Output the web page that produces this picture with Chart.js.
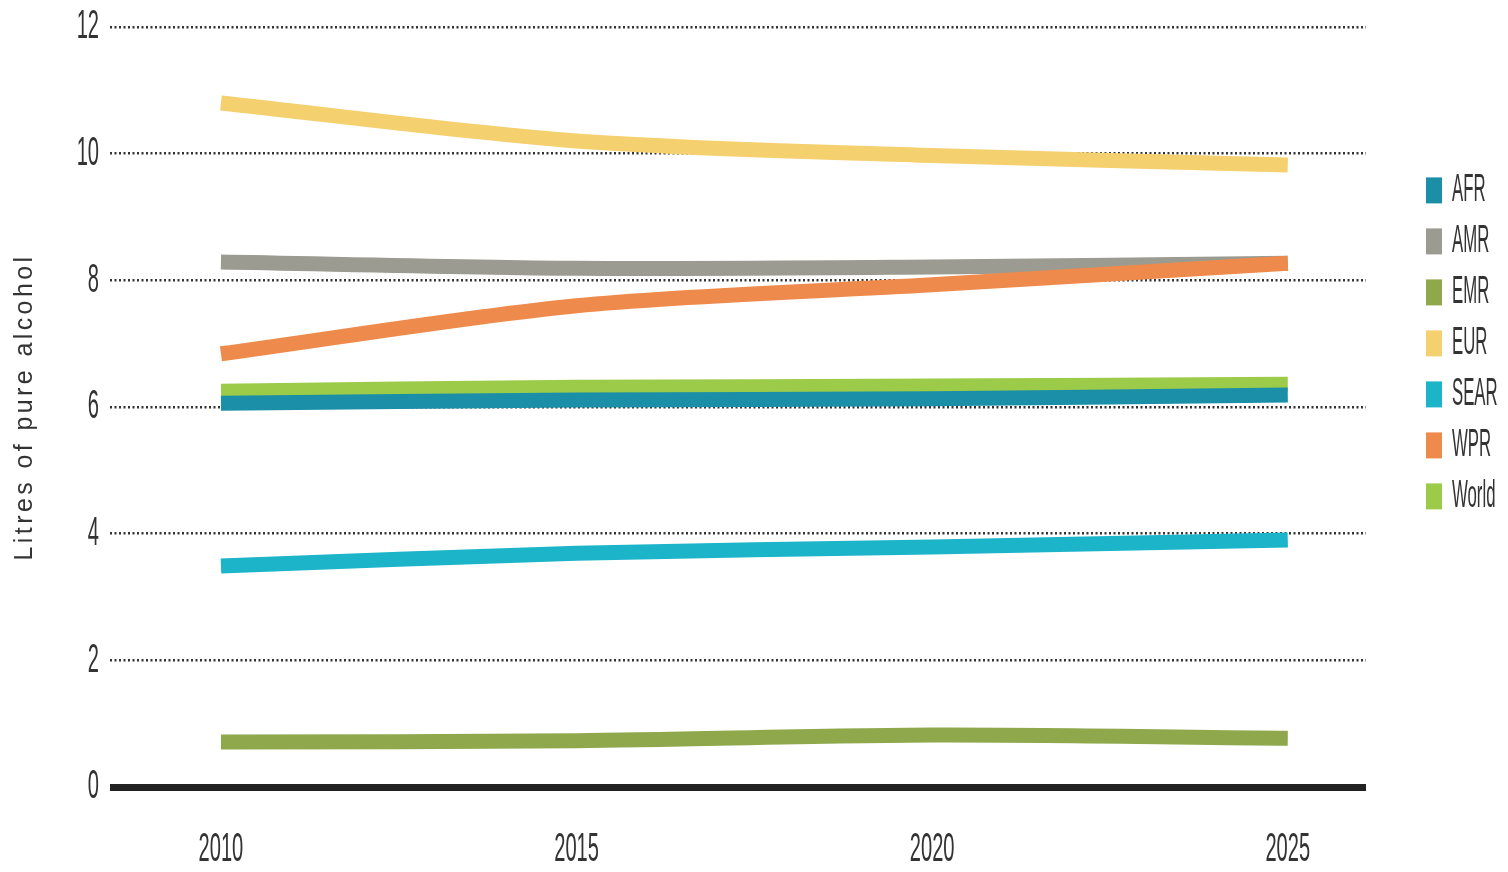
<!DOCTYPE html>
<html>
<head>
<meta charset="utf-8">
<script src="https://cdn.jsdelivr.net/npm/chart.js@4/dist/chart.umd.min.js"></script>
<style>
  html, body { margin: 0; padding: 0; background: #fff; }
  #c { display: block; }
</style>
</head>
<body>
<canvas id="c" width="1508" height="872"></canvas>
<script>
  // Litres of pure alcohol per capita, by WHO region
  const YEARS = [2010, 2015, 2020, 2025];
  const Y_TICKS = [0, 2, 4, 6, 8, 10, 12];

  const AFR   = [6.06, 6.11, 6.13, 6.19];
  const AMR   = [8.29, 8.19, 8.21, 8.27];
  const EMR   = [0.71, 0.73, 0.82, 0.77];
  const EUR   = [10.80, 10.20, 9.97, 9.82];
  const SEAR  = [3.49, 3.69, 3.79, 3.90];
  const WPR   = [6.84, 7.60, 7.93, 8.27];
  const WORLD = [6.25, 6.31, 6.33, 6.36];

  const FONT = "'Liberation Sans', Arial, sans-serif";

  function pts(vals) {
    return vals.map(function (v, i) { return { x: YEARS[i], y: v }; });
  }

  function series(label, vals, color, order) {
    return {
      label: label, data: pts(vals), order: order,
      borderColor: color, backgroundColor: color,
      borderWidth: 15, borderCapStyle: 'butt', borderJoinStyle: 'round',
      pointRadius: 0, tension: 0.3, fill: false,
    };
  }

  /* condensed text: the narrow face is drawn by squeezing a normal one */
  function narrowText(ctx, text, x, y, size, sx, align) {
    ctx.save();
    ctx.font = size + 'px ' + FONT;
    ctx.fillStyle = '#333';
    ctx.textBaseline = 'middle';
    ctx.textAlign = align;
    ctx.translate(x, y);
    ctx.scale(sx, 1);
    ctx.fillText(text, 0, 0);
    ctx.restore();
  }

  const narrowLabels = {
    id: 'narrowLabels',
    beforeDraw: function (chart) { chart.ctx.letterSpacing = '3.4px'; },
    afterDraw: function (chart) {
      const ctx = chart.ctx;
      ctx.letterSpacing = '0px';
      const xs = chart.scales.x, ys = chart.scales.y;
      Y_TICKS.forEach(function (v) {
        narrowText(ctx, String(v), 99, ys.getPixelForValue(v), 41, 0.49, 'right');
      });
      YEARS.forEach(function (v) {
        narrowText(ctx, String(v), xs.getPixelForValue(v), 850, 41, 0.49, 'center');
      });
      const lg = chart.legend;
      lg.legendItems.forEach(function (item, i) {
        const hb = lg.legendHitBoxes[i];
        narrowText(ctx, item.text, hb.left + 26, hb.top + 15, 39, 0.43, 'left');
      });
    },
  };

  new Chart(document.getElementById('c'), {
    type: 'line',
    data: {
      datasets: [
        series('AFR',   AFR,   '#1a8fa7', 1),
        series('AMR',   AMR,   '#9c9b91', 6),
        series('EMR',   EMR,   '#8ea84b', 3),
        series('EUR',   EUR,   '#f5d06e', 4),
        series('SEAR',  SEAR,  '#1cb4c9', 5),
        series('WPR',   WPR,   '#ee8a4b', 2),
        series('World', WORLD, '#9ccb4a', 7),
      ],
    },
    plugins: [narrowLabels],
    options: {
      responsive: false,
      animation: false,
      layout: { padding: { top: 27, right: 0, bottom: 0, left: 0 } },
      plugins: {
        tooltip: { enabled: false },
        legend: {
          position: 'right',
          align: 'start',
          maxWidth: 103,
          title: { display: true, text: '', font: { size: 12 }, padding: { top: 113, bottom: 0 } },
          labels: {
            sort: function (a, b) { return a.datasetIndex - b.datasetIndex; },
            generateLabels: function (chart) {
              return Chart.defaults.plugins.legend.labels.generateLabels(chart).map(function (it) {
                it.lineWidth = 0;
                return it;
              });
            },
            boxWidth: 16, boxHeight: 26, padding: 21,
            color: 'rgba(0,0,0,0)', font: { family: FONT, size: 30 },
          },
        },
      },
      scales: {
        x: {
          type: 'linear', min: 2008.44, max: 2026.1,
          afterBuildTicks: function (axis) { axis.ticks = YEARS.map(function (v) { return { value: v }; }); },
          afterFit: function (axis) { axis.height = 85; },
          grid: { display: false },
          border: { display: false },
          ticks: { color: 'rgba(0,0,0,0)', font: { size: 10 } },
        },
        y: {
          min: 0, max: 12,
          afterBuildTicks: function (axis) { axis.ticks = Y_TICKS.map(function (v) { return { value: v }; }); },
          afterFit: function (axis) { axis.width = 110; },
          grid: {
            drawTicks: false,
            color: function (ctx) { return ctx.tick && ctx.tick.value === 0 ? '#222' : '#333'; },
            lineWidth: function (ctx) { return ctx.tick && ctx.tick.value === 0 ? 7 : 2.5; },
          },
          border: {
            display: false,
            dash: function (ctx) { return ctx.tick && ctx.tick.value === 0 ? [] : [2, 2.5]; },
          },
          ticks: { color: 'rgba(0,0,0,0)', font: { size: 10 } },
          title: {
            display: true, text: 'Litres of pure alcohol', color: '#333',
            font: { family: FONT, size: 25 },
            padding: { top: 10, bottom: 0 },
          },
        },
        gap: {
          position: 'right', display: true,
          afterFit: function (axis) { axis.width = 39; },
          grid: { display: false }, border: { display: false },
          ticks: { display: false },
        },
      },
    },
  });
</script>
</body>
</html>
